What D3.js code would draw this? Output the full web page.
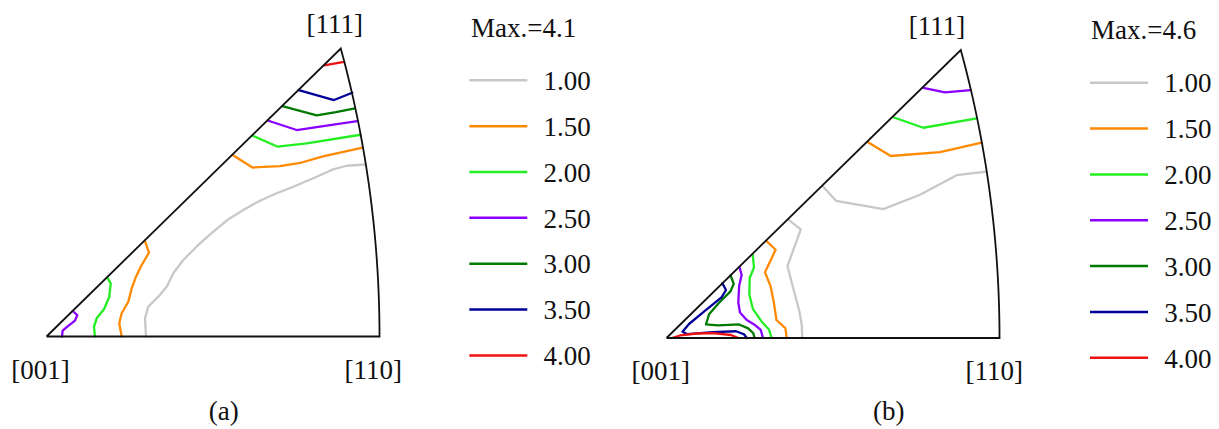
<!DOCTYPE html>
<html>
<head>
<meta charset="utf-8">
<script src="https://cdn.jsdelivr.net/npm/d3@7"></script>
<style>
  html, body { margin: 0; padding: 0; background: #fff; }
  svg { display: block; }
  text { font-family: "Liberation Serif", "Times New Roman", serif; fill: #111; }
</style>
</head>
<body>
<svg id="chart" width="1219" height="429"></svg>
<script>
// Contour levels of the inverse pole figures and their colours
const levels = [1.00, 1.50, 2.00, 2.50, 3.00, 3.50, 4.00];
const levelColors = ["#c8c8c8", "#ff8a00", "#22ee22", "#8a00ff", "#007a00", "#000099", "#ee1111"];
const poleLabels = ["[001]", "[110]", "[111]"];
const panelNames = ["(a)", "(b)"];
const maxValues = [4.1, 4.6];

// Stereographic coordinates of the triangle corners
const cornerO = [0, 0];
const cornerA = [0.4142, 0];
const cornerB = [0.366, 0.366];

// Contour polylines, (u, v) in stereographic projection units
const contoursA = [
  { level: 1.00, pts: [[0.396,0.2186],[0.3734,0.217],[0.3567,0.2125],[0.3361,0.2031],[0.307,0.1903],[0.2863,0.182],[0.2655,0.1726],[0.2448,0.1607],[0.2249,0.148],[0.2075,0.1332],[0.1888,0.1163],[0.1701,0.0972],[0.1577,0.0803],[0.1495,0.0633],[0.1391,0.0506],[0.1266,0.0379],[0.1225,0.0231],[0.1238,0]] },
  { level: 1.50, pts: [[0.2316,0.2306],[0.2562,0.2147],[0.2904,0.2166],[0.3174,0.2211],[0.3439,0.229],[0.3933,0.2399]] },
  { level: 1.50, pts: [[0.1225,0.1213],[0.1275,0.1065],[0.1184,0.0909],[0.1113,0.076],[0.106,0.0612],[0.1017,0.0442],[0.0935,0.0295],[0.0905,0.0168],[0.0935,0]] },
  { level: 2.00, pts: [[0.2565,0.2551],[0.2876,0.2412],[0.3236,0.2455],[0.3908,0.2564]] },
  { level: 2.00, pts: [[0.0756,0.0748],[0.0799,0.0676],[0.0781,0.0506],[0.0715,0.0346],[0.0624,0.0231],[0.0591,0.0125],[0.0603,0]] },
  { level: 2.50, pts: [[0.2751,0.2745],[0.3112,0.2624],[0.3485,0.2679],[0.3866,0.2738]] },
  { level: 2.50, pts: [[0.0326,0.0324],[0.0383,0.0273],[0.0354,0.0201],[0.0259,0.0125],[0.0201,0.0074],[0.0193,0]] },
  { level: 3.00, pts: [[0.2933,0.2929],[0.3361,0.2811],[0.3600,0.2850],[0.3837,0.29]] },
  { level: 3.50, pts: [[0.3137,0.3132],[0.3576,0.3005],[0.3803,0.3098]] },
  { level: 4.00, pts: [[0.3455,0.3445],[0.370,0.349]] }
];

const contoursB = [
  { level: 1.00, pts: [[0.1947,0.1925],[0.2108,0.1743],[0.2697,0.1637],[0.3153,0.182],[0.3609,0.2069],[0.398,0.2113]] },
  { level: 1.00, pts: [[0.1515,0.1505],[0.167,0.1381],[0.1505,0.0915],[0.1577,0.0629],[0.1652,0.0343],[0.1682,0.0165],[0.1689,0]] },
  { level: 1.50, pts: [[0.2502,0.2490],[0.2789,0.2313],[0.3402,0.2363],[0.392,0.2482]] },
  { level: 1.50, pts: [[0.1241,0.1235],[0.1358,0.1122],[0.1225,0.0836],[0.1296,0.0652],[0.1337,0.0441],[0.1368,0.0229],[0.148,0.0123],[0.1495,0]] },
  { level: 2.00, pts: [[0.2821,0.2805],[0.3194,0.2672],[0.3858,0.2792]] },
  { level: 2.00, pts: [[0.1072,0.1062],[0.1088,0.0896],[0.1035,0.0762],[0.103,0.0553],[0.1076,0.0366],[0.1184,0.0207],[0.1272,0.0112],[0.1308,0]] },
  { level: 2.50, pts: [[0.3194,0.3180],[0.3464,0.3122],[0.3784,0.3151]] },
  { level: 2.50, pts: [[0.0908,0.0900],[0.0935,0.08],[0.0904,0.0663],[0.0893,0.0451],[0.0914,0.0324],[0.0998,0.0229],[0.1101,0.0165],[0.1172,0.0102],[0.12,0]] },
  { level: 3.00, pts: [[0.0796,0.0796],[0.0836,0.0689],[0.0796,0.0593],[0.0665,0.0461],[0.0529,0.0302],[0.0491,0.0172],[0.0641,0.0161],[0.0902,0.0172],[0.1017,0.0123],[0.108,0.006],[0.1095,0]] },
  { level: 3.50, pts: [[0.0695,0.0695],[0.074,0.061],[0.0684,0.0515],[0.0466,0.0334],[0.028,0.0178],[0.0199,0.008],[0.0261,0.0048],[0.0578,0.0074],[0.0864,0.0086],[0.0964,0.0048],[0.0998,0]] },
  { level: 4.00, pts: [[0.0068,0],[0.0168,0.0032],[0.0376,0.0057],[0.0578,0.0061],[0.0802,0.0038],[0.0893,0]] }
];

const svg = d3.select("#chart");

// Shared projection scales for both triangles
const x = d3.scaleLinear().domain([0, cornerA[0]]).range([0, 333]);
const y = d3.scaleLinear().domain([0, cornerB[1]]).range([288, 0]);
const color = d3.scaleOrdinal().domain(levels).range(levelColors);
const line = d3.line().x(d => x(d[0])).y(d => y(d[1]));

// Outline: straight edges from [001], great-circle arc between [110] and [111]
const arcEnd = Math.atan2(cornerB[1], cornerB[0] + 1);
const arcPts = d3.range(0, 61).map(i => {
  const t = arcEnd * i / 60;
  return [-1 + Math.SQRT2 * Math.cos(t), Math.SQRT2 * Math.sin(t)];
});
const outline = [cornerO].concat(arcPts, [cornerO]);

const panels = [
  { tx: 46.5, ty: 48.5, contours: contoursA, name: panelNames[0], max: maxValues[0],
    lab111: [334.7, 33], lab001: [40.5, 379], lab110: [373.3, 379], nameAt: [223.8, 419.5],
    legendX: 469.3, legendY: 80.3, titleAt: [471, 36.7] },
  { tx: 666.5, ty: 50, contours: contoursB, name: panelNames[1], max: maxValues[1],
    lab111: [937, 35], lab001: [660.8, 380], lab110: [994.2, 380], nameAt: [888.8, 420],
    legendX: 1090, legendY: 82.7, titleAt: [1091, 39] }
];

const fontSize = 27;

panels.forEach(p => {
  const g = svg.append("g").attr("transform", `translate(${p.tx},${p.ty})`);

  g.selectAll("path.contour")
    .data(p.contours)
    .join("path")
    .attr("class", "contour")
    .attr("d", d => line(d.pts))
    .attr("fill", "none")
    .attr("stroke", d => color(d.level))
    .attr("stroke-width", 2.3)
    .attr("stroke-linejoin", "round")
    .attr("stroke-linecap", "round");

  g.append("path")
    .attr("d", line(outline))
    .attr("fill", "none")
    .attr("stroke", "#111")
    .attr("stroke-width", 1.8)
    .attr("stroke-linejoin", "miter");

  // Pole labels and panel caption
  const labels = [
    [poleLabels[2], p.lab111],
    [poleLabels[0], p.lab001],
    [poleLabels[1], p.lab110],
    [p.name, p.nameAt]
  ];
  labels.forEach(([t, pos]) => {
    svg.append("text")
      .attr("x", pos[0]).attr("y", pos[1])
      .attr("text-anchor", "middle")
      .attr("font-size", fontSize)
      .text(t);
  });

  // Legend
  svg.append("text")
    .attr("x", p.titleAt[0]).attr("y", p.titleAt[1])
    .attr("font-size", fontSize)
    .text("Max.=" + p.max.toFixed(1));

  const step = 45.85;
  const lg = svg.append("g");
  levels.forEach((lv, i) => {
    const ly = p.legendY + i * step;
    lg.append("line")
      .attr("x1", p.legendX).attr("x2", p.legendX + 58)
      .attr("y1", ly).attr("y2", ly)
      .attr("stroke", color(lv))
      .attr("stroke-width", 2.5);
    lg.append("text")
      .attr("x", p.legendX + 74.2).attr("y", ly + 9.7)
      .attr("font-size", fontSize)
      .text(lv.toFixed(2));
  });
});
</script>
</body>
</html>
